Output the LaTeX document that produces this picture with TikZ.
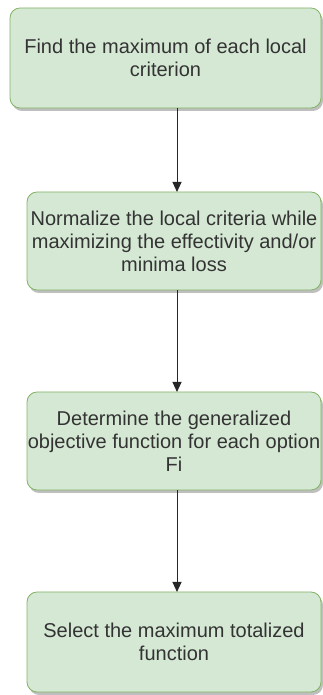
\documentclass[tikz,border=0pt]{standalone}
\usepackage{fontspec}
\setmainfont{Liberation Sans}
\usetikzlibrary{shadows,arrows.meta}
\definecolor{boxfill}{HTML}{D5E8D4}
\definecolor{boxdraw}{HTML}{82B366}
\definecolor{txt}{HTML}{333333}
\tikzset{
  stepbox/.style={draw=boxdraw, fill=boxfill, rounded corners=10pt, line width=0.8pt,
    align=center, text=txt, inner sep=0pt, outer sep=0pt,
    font=\fontsize{20pt}{23pt}\selectfont,
    drop shadow={shadow xshift=2pt, shadow yshift=-3pt, fill=black, opacity=0.25}},
  flow/.style={draw=black!85, line width=0.9pt, -{Triangle[length=10pt,width=9pt]}}
}
\begin{document}
\begin{tikzpicture}[x=1pt,y=1pt]
\useasboundingbox (0,0) rectangle (323,695);
\node[stepbox, minimum width=311pt, minimum height=100pt] (b1) at (165.5,637)
  {Find the maximum of each local\\criterion};
\node[stepbox, minimum width=294pt, minimum height=98pt] (b2) at (174,454)
  {Normalize the local criteria while\\maximizing the effectivity and/or\\minima loss};
\node[stepbox, minimum width=294pt, minimum height=98pt] (b3) at (174,254)
  {Determine the generalized\\objective function for each option\\Fi};
\node[stepbox, minimum width=294pt, minimum height=100pt] (b4) at (174,53)
  {Select the maximum totalized\\function};
\coordinate (ax) at (177,0);
\draw[flow] (b1.south -| ax) -- (b2.north -| ax);
\draw[flow] (b2.south -| ax) -- (b3.north -| ax);
\draw[flow] (b3.south -| ax) -- (b4.north -| ax);
\end{tikzpicture}
\end{document}
